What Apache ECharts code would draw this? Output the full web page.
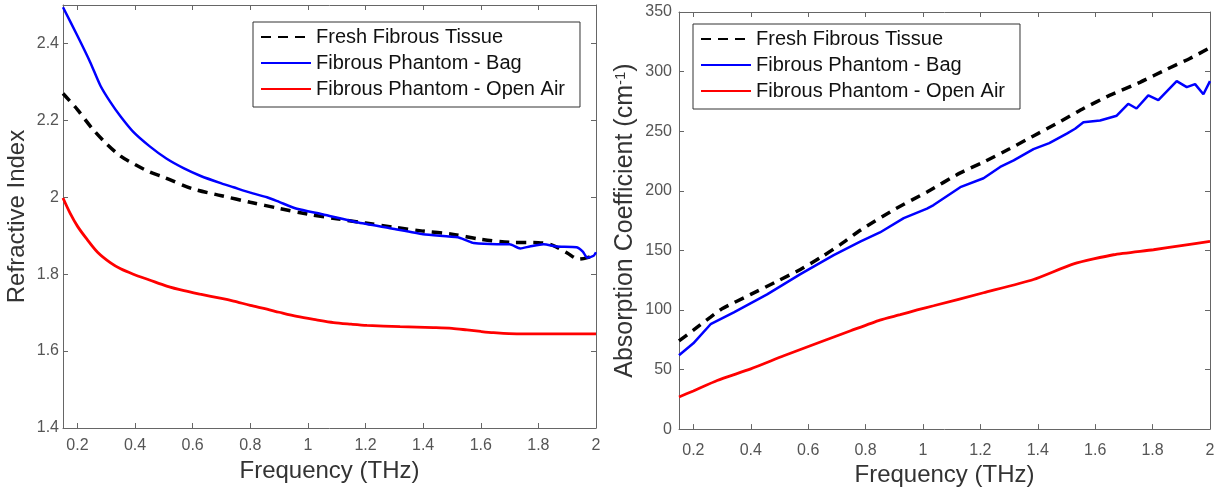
<!DOCTYPE html>
<html>
<head>
<meta charset="utf-8">
<script src="https://cdn.jsdelivr.net/npm/echarts@6/dist/echarts.min.js"></script>
<style>
html,body{margin:0;padding:0;background:#fff;}
#c{width:1225px;height:492px;}
</style>
</head>
<body>
<div id="c"></div>
<script>
// ---------- Data ----------
const seriesNames = ['Fresh Fibrous Tissue', 'Fibrous Phantom - Bag', 'Fibrous Phantom - Open Air'];
const xTicks = [0.2, 0.4, 0.6, 0.8, 1, 1.2, 1.4, 1.6, 1.8, 2];
const riTicks = [1.4, 1.6, 1.8, 2, 2.2, 2.4];
const acTicks = [0, 50, 100, 150, 200, 250, 300, 350];

// Refractive index (left panel)
const riFreshFreq = [0.15,0.2,0.25,0.3,0.35,0.4,0.45,0.5,0.6,0.7,0.8,0.9,1.0,1.1,1.2,1.3,1.4,1.5,1.6,1.7,1.8,1.85,1.9,1.94,1.97,2.0];
const riFresh     = [2.27,2.228,2.18,2.14,2.107,2.085,2.066,2.052,2.022,2.004,1.987,1.971,1.956,1.944,1.933,1.922,1.912,1.904,1.891,1.883,1.882,1.875,1.855,1.839,1.843,1.852];

const riBagFreq = [0.15,0.2,0.244,0.28,0.314,0.35,0.394,0.45,0.51,0.57,0.626,0.7,0.742,0.8,0.858,0.9,0.962,1.05,1.17,1.29,1.4,1.52,1.55,1.575,1.656,1.70,1.737,1.77,1.818,1.864,1.933,1.955,1.969,1.992,2.0];
const riBag     = [2.494,2.42,2.352,2.29,2.248,2.21,2.17,2.133,2.1,2.075,2.056,2.036,2.026,2.012,2.0,1.988,1.97,1.956,1.935,1.919,1.904,1.896,1.888,1.881,1.878,1.878,1.867,1.872,1.878,1.872,1.870,1.858,1.843,1.848,1.857];

const riAirFreq = [0.15,0.175,0.2,0.233,0.27,0.314,0.35,0.394,0.45,0.51,0.57,0.626,0.7,0.742,0.8,0.858,0.9,0.962,1.03,1.089,1.15,1.205,1.32,1.436,1.5,1.552,1.6,1.644,1.725,1.85,2.0];
const riAir     = [1.998,1.958,1.925,1.891,1.857,1.830,1.814,1.8,1.785,1.769,1.757,1.748,1.737,1.730,1.719,1.709,1.701,1.690,1.681,1.674,1.670,1.667,1.6635,1.661,1.659,1.655,1.651,1.648,1.645,1.645,1.645];

// Absorption coefficient (right panel)
const acFreshFreq = [0.15,0.2,0.26,0.3,0.4,0.5,0.573,0.65,0.713,0.783,0.898,1.014,1.13,1.211,1.3,1.385,1.47,1.559,1.65,1.756,1.85,1.93,2.0];
const acFresh     = [74,83,94,101,113,125,134,145,155,167,184,199,215,224,235,246,257,269,280,291,302,311,320];

const acBagFreq = [0.15,0.2,0.26,0.341,0.457,0.573,0.689,0.783,0.85,0.933,1.014,1.037,1.13,1.211,1.269,1.316,1.385,1.44,1.501,1.53,1.559,1.617,1.675,1.715,1.744,1.785,1.82,1.884,1.919,1.948,1.977,2.0];
const acBag     = [62,72,88,98,113,130,146,157.5,165,177,185,188,203,210.5,220,225.5,235,240,248,252,257.5,259,263,273,269,280,276,292,287,289.5,281,292];

const acAirFreq = [0.15,0.2,0.283,0.4,0.515,0.631,0.748,0.85,0.921,0.98,1.037,1.211,1.385,1.525,1.664,1.803,1.9,2.0];
const acAir     = [27,32,40.8,50.5,61.5,72,82.5,91.5,96,100,103.5,114.4,125.5,138.6,146.3,150.5,154,157.5];

// ---------- Helpers ----------
const pairs = (xs, ys) => xs.map((x, i) => [x, ys[i]]);
const FONT = 'Liberation Sans, Arial, Helvetica, sans-serif';
const AXIS_COLOR = '#666';
const LABEL_COLOR = '#555';
const TITLE_COLOR = '#333';

function xAx(grid, pos, show, name, gap, margin) {
  return {
    type: 'value', gridIndex: grid, position: pos, min: 0.15, max: 2,
    name: show ? name : '', nameLocation: 'middle', nameGap: gap,
    nameTextStyle: {fontFamily: FONT, fontSize: 24, color: TITLE_COLOR},
    axisLine: {show: true, onZero: false, lineStyle: {color: AXIS_COLOR, width: 1}},
    axisTick: {show: true, inside: true, length: 5, customValues: xTicks, lineStyle: {color: AXIS_COLOR}},
    axisLabel: {show: show, customValues: xTicks, margin: margin, fontFamily: FONT, fontSize: 16, color: LABEL_COLOR},
    splitLine: {show: false}
  };
}
function yAx(grid, pos, show, min, max, ticks, name, gap, margin, nameStyle) {
  return {
    type: 'value', gridIndex: grid, position: pos, min: min, max: max,
    name: show ? name : '', nameLocation: 'middle', nameGap: gap,
    nameTextStyle: nameStyle || {fontFamily: FONT, fontSize: 24, color: TITLE_COLOR},
    axisLine: {show: true, onZero: false, lineStyle: {color: AXIS_COLOR, width: 1}},
    axisTick: {show: true, inside: true, length: 5, customValues: ticks, lineStyle: {color: AXIS_COLOR}},
    axisLabel: {show: show, customValues: ticks, margin: margin, fontFamily: FONT, fontSize: 16, color: LABEL_COLOR},
    splitLine: {show: false}
  };
}

const lineStyles = [
  {color: '#000000', width: 3.5, type: [10, 7]},
  {color: '#0000ff', width: 2.5, type: 'solid'},
  {color: '#ff0000', width: 2.8, type: 'solid'}
];
function ser(nameIdx, xi, yi, data, smooth) {
  return {
    type: 'line', name: seriesNames[nameIdx], xAxisIndex: xi, yAxisIndex: yi,
    data: data, showSymbol: false, symbol: 'none', smooth: smooth,
    lineStyle: lineStyles[nameIdx], itemStyle: {color: lineStyles[nameIdx].color},
    emphasis: {disabled: true}, z: 3
  };
}

function legendCfg(left, top) {
  return {
    orient: 'vertical', left: left, top: top,
    data: seriesNames,
    itemWidth: 50, itemHeight: 14, itemGap: 6,
    padding: [5, 15, 8, 7],
    borderColor: '#333', borderWidth: 1, backgroundColor: '#fff',
    itemStyle: {opacity: 0},
    textStyle: {fontFamily: FONT, fontSize: 20, color: '#111', lineHeight: 20, padding: [0, 0, 0, 0]},
    selectedMode: false
  };
}

const option = {
  animation: false,
  backgroundColor: '#fff',
  grid: [
    {left: 63, top: 5, width: 533, height: 423, containLabel: false},
    {left: 679, top: 12, width: 531, height: 420, containLabel: false}
  ],
  legend: [legendCfg(253, 22), legendCfg(693, 24)],
  xAxis: [
    xAx(0, 'bottom', true, 'Frequency (THz)', 30, 10),
    xAx(0, 'top', false, '', 0, 0),
    xAx(1, 'bottom', true, 'Frequency (THz)', 31, 13),
    xAx(1, 'top', false, '', 0, 0)
  ],
  yAxis: [
    yAx(0, 'left', true, 1.4, 2.5, riTicks, 'Refractive Index', 34, 4),
    yAx(0, 'right', false, 1.4, 2.5, riTicks, '', 0, 0),
    yAx(1, 'left', true, 0, 350, acTicks, '{a|Absorption Coefficient (cm}{s|-1}{a|)}', 41, 7, {
      fontFamily: FONT, color: TITLE_COLOR, fontSize: 25,
      rich: {
        a: {fontFamily: FONT, fontSize: 25, color: TITLE_COLOR},
        s: {fontFamily: FONT, fontSize: 15, color: TITLE_COLOR, verticalAlign: 'top'}
      }
    }),
    yAx(1, 'right', false, 0, 350, acTicks, '', 0, 0)
  ],
  series: [
    ser(0, 0, 0, pairs(riFreshFreq, riFresh), 0.3),
    ser(1, 0, 0, pairs(riBagFreq, riBag), 0.2),
    ser(2, 0, 0, pairs(riAirFreq, riAir), 0.3),
    ser(0, 2, 2, pairs(acFreshFreq, acFresh), 0.2),
    ser(1, 2, 2, pairs(acBagFreq, acBag), false),
    ser(2, 2, 2, pairs(acAirFreq, acAir), 0.2)
  ]
};

const chart = echarts.init(document.getElementById('c'), null, {renderer: 'canvas'});
chart.setOption(option);
</script>
</body>
</html>
